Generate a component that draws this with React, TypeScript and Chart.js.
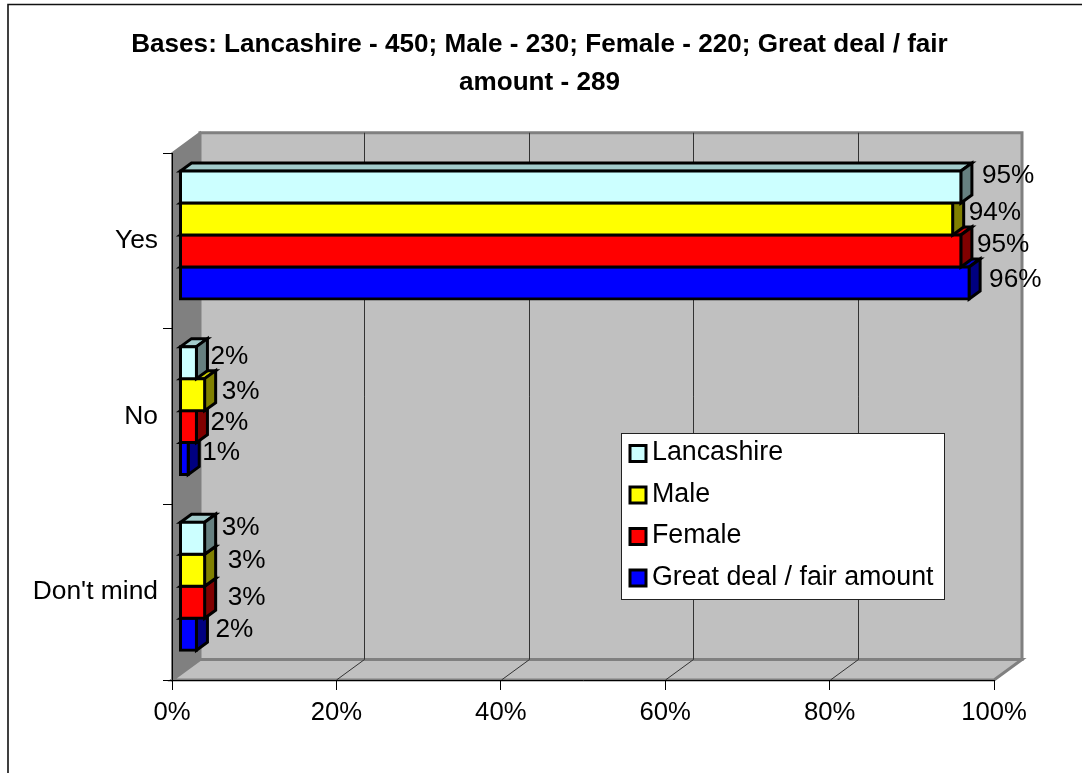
import React, { useEffect, useRef } from "react";
import { Chart, registerables } from "chart.js";

Chart.register(...registerables);

const titleLines = ["Bases: Lancashire - 450; Male - 230; Female - 220; Great deal / fair", "amount - 289"];
const categories = ["Yes", "No", "Don't mind"];
const lancashire = [95, 2, 3];
const male = [94, 3, 3];
const female = [95, 2, 3];
const greatDeal = [96, 1, 2];
const xTicks = [0, 20, 40, 60, 80, 100];

const FONT = '"Liberation Sans", Arial, sans-serif';
const BAR_SHIFT = { x: 8, y: -6 };
const BAR_DEPTH = { x: 11, y: -8 };
const WALL_DEPTH = { x: 28, y: -20.5 };
// label placement relative to the bar's front end and centre, per series then per category
const labelNudge = [
  [{ x: 10, y: -17 }, { x: 3, y: -12 }, { x: 6, y: -16 }],
  [{ x: 5, y: -12 }, { x: 6, y: -9 }, { x: 12, y: -15 }],
  [{ x: 5, y: -12 }, { x: 3, y: -10 }, { x: 12, y: -10 }],
  [{ x: 9, y: -9 }, { x: 3, y: -12 }, { x: 8, y: -10 }],
];

function shade(hex: string, f: number) {
  const n = parseInt(hex.slice(1), 16);
  const c = (s: number) => Math.round(((n >> s) & 255) * f);
  return `rgb(${c(16)},${c(8)},${c(0)})`;
}

const poly = (ctx: CanvasRenderingContext2D, pts: number[][], fill: string, stroke: string, lw: number) => {
  ctx.beginPath();
  pts.forEach(([x, y], i) => (i ? ctx.lineTo(x, y) : ctx.moveTo(x, y)));
  ctx.closePath();
  ctx.fillStyle = fill;
  ctx.fill();
  ctx.lineWidth = lw;
  ctx.strokeStyle = stroke;
  ctx.lineJoin = "miter";
  ctx.stroke();
};

const chart3d = {
  id: "chart3d",
  beforeDraw(chart: any) {
    const ctx: CanvasRenderingContext2D = chart.ctx;
    const { x: xs, y: ys } = chart.scales;
    const L = xs.left, R = xs.right, T = ys.top, B = ys.bottom;
    const dx = WALL_DEPTH.x, dy = WALL_DEPTH.y;
    ctx.save();
    ctx.fillStyle = "#fff";
    ctx.fillRect(0, 0, chart.width, chart.height);
    // outer frame: top and left edges only
    ctx.strokeStyle = "#111";
    ctx.lineWidth = 1.6;
    ctx.beginPath();
    ctx.moveTo(8, 773);
    ctx.lineTo(8, 4.5);
    ctx.lineTo(1082, 4.5);
    ctx.stroke();
    // walls
    poly(ctx, [[L, T], [L + dx, T + dy], [L + dx, B + dy], [L, B]], "#808080", "#808080", 2);
    poly(ctx, [[L + dx, T + dy], [R + dx, T + dy], [R + dx, B + dy], [L + dx, B + dy]], "#c0c0c0", "#808080", 3);
    poly(ctx, [[L, B], [L + dx, B + dy], [R + dx, B + dy], [R, B]], "#c0c0c0", "#808080", 3);
    // gridlines on back wall and floor
    ctx.strokeStyle = "#333";
    ctx.lineWidth = 1;
    for (const v of xTicks.slice(1, -1)) {
      const px = Math.round(xs.getPixelForValue(v)) + 0.5;
      ctx.beginPath();
      ctx.moveTo(px + dx, T + dy);
      ctx.lineTo(px + dx, B + dy);
      ctx.lineTo(px, B);
      ctx.stroke();
    }
    ctx.restore();
  },
  beforeDatasetsDraw(chart: any) {
    const ctx: CanvasRenderingContext2D = chart.ctx;
    const dx = BAR_DEPTH.x, dy = BAR_DEPTH.y;
    const sets = chart.data.datasets as any[];
    ctx.save();
    ctx.translate(BAR_SHIFT.x, BAR_SHIFT.y);
    // the lowest series is painted first, so the bar above hides its top face
    for (let i = sets.length - 1; i >= 0; i--) {
      chart.getDatasetMeta(i).data.forEach((el: any) => {
        const top = el.y - el.height / 2, bot = el.y + el.height / 2;
        const col = sets[i].backgroundColor;
        poly(ctx, [[el.base, top], [el.x, top], [el.x + dx, top + dy], [el.base + dx, top + dy]], shade(col, 0.8), "#000", 3);
        poly(ctx, [[el.x, top], [el.x + dx, top + dy], [el.x + dx, bot + dy], [el.x, bot]], shade(col, 0.5), "#000", 3);
        el.draw(ctx);
      });
    }
    ctx.restore();

    // data labels
    ctx.save();
    ctx.font = `26.2px ${FONT}`;
    ctx.fillStyle = "#000";
    ctx.textAlign = "left";
    ctx.textBaseline = "middle";
    sets.forEach((ds: any, i: number) => {
      chart.getDatasetMeta(i).data.forEach((el: any, j: number) => {
        const n = labelNudge[i][j];
        ctx.fillText(`${ds.data[j]}%`, el.x + BAR_SHIFT.x + BAR_DEPTH.x + n.x, el.y + n.y);
      });
    });
    ctx.restore();

    // legend
    ctx.save();
    const bx = 621, by = 433, bw = 323, bh = 166;
    ctx.fillStyle = "#fff";
    ctx.fillRect(bx, by, bw, bh);
    ctx.strokeStyle = "#222";
    ctx.lineWidth = 1;
    ctx.strokeRect(bx + 0.5, by + 0.5, bw, bh);
    ctx.font = `26.8px ${FONT}`;
    ctx.textBaseline = "middle";
    sets.forEach((ds: any, i: number) => {
      const cy = by + 20 + i * 41.5;
      ctx.fillStyle = ds.backgroundColor;
      ctx.strokeStyle = "#000";
      ctx.lineWidth = 3;
      ctx.fillRect(630, cy - 7.5, 16, 16);
      ctx.strokeRect(630, cy - 7.5, 16, 16);
      ctx.fillStyle = "#000";
      ctx.fillText(ds.label, 652, cy);
    });
    ctx.restore();
    return false;
  },
};

export default function App() {
  const ref = useRef<HTMLCanvasElement>(null);
  useEffect(() => {
    document.body.style.margin = "0";
    const bar = (label: string, data: number[], color: string) => ({
      label,
      data,
      backgroundColor: color,
      borderColor: "#000",
      borderWidth: 3,
      borderSkipped: false,
      inflateAmount: 1.5,
      categoryPercentage: 0.7287,
      barPercentage: 1,
    });
    const chart = new Chart(ref.current!, {
      type: "bar",
      data: {
        labels: categories,
        datasets: [
          bar("Lancashire", lancashire, "#ccffff"),
          bar("Male", male, "#ffff00"),
          bar("Female", female, "#ff0000"),
          bar("Great deal / fair amount", greatDeal, "#0000ff"),
        ],
      },
      options: {
        indexAxis: "y",
        responsive: false,
        animation: false,
        layout: { padding: { left: 0, right: 3, top: 0, bottom: 0 } },
        plugins: {
          legend: { display: false },
          tooltip: { enabled: false },
          title: {
            display: true,
            text: titleLines,
            color: "#000",
            font: { family: FONT, size: 26.1, weight: "bold", lineHeight: 1.48 },
            padding: { top: 25, bottom: 51 },
          },
        },
        scales: {
          x: {
            min: 0,
            max: 100,
            grid: { drawOnChartArea: false, color: "#000", tickLength: 10, tickColor: "#000" },
            border: { color: "#000", width: 1 },
            ticks: {
              stepSize: 20,
              maxRotation: 0,
              padding: 7,
              color: "#000",
              font: { family: FONT, size: 25.7 },
              callback: (v: any) => `${v}%`,
            },
            afterFit: (s: any) => { s.height = 93; s.paddingRight = 88; },
          },
          y: {
            grid: { drawOnChartArea: false, color: "#000", tickLength: 9, tickColor: "#000" },
            border: { color: "#000", width: 1 },
            ticks: { padding: 5, color: "#000", font: { family: FONT, size: 26.4 } },
            afterFit: (s: any) => { s.width = 172; },
          },
        },
      },
      plugins: [chart3d],
    } as any);
    return () => chart.destroy();
  }, []);
  return <canvas ref={ref} width={1082} height={773} style={{ display: "block", position: "fixed", left: 0, top: 0 }} />;
}
